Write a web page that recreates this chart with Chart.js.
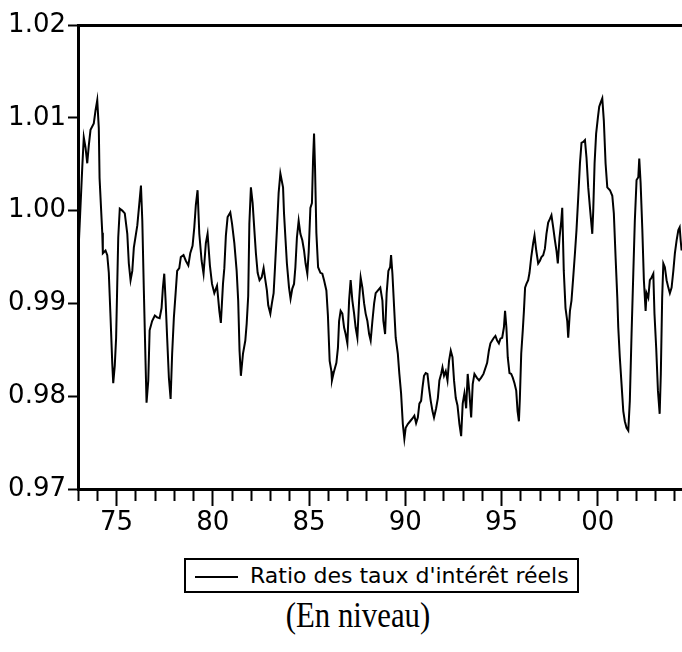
<!DOCTYPE html>
<html>
<head>
<meta charset="utf-8">
<script src="https://cdn.jsdelivr.net/npm/chart.js@4/dist/chart.umd.min.js"></script>
<style>
  body { margin: 0; background: #fff; }
  #wrap { position: relative; width: 682px; height: 652px; overflow: hidden; }
  #chart { position: absolute; left: 0; top: 0; }
  .legend-box { position: absolute; left: 184px; top: 558px; width: 395px; height: 35px;
                border: 2px solid #000; box-sizing: border-box; }
  .legend-line { position: absolute; left: 195px; top: 576px; width: 43px; height: 2px; background: #000; }
  .legend-text { position: absolute; left: 250px; top: 565px; font: 22px/22px "DejaVu Sans", sans-serif;
                 color: #000; white-space: nowrap; }
  .caption { position: absolute; left: 208px; width: 300px; top: 598px; text-align: center;
             font: 35px/35px "Liberation Serif", "Times New Roman", serif; color: #000;
             transform: scaleX(0.88); transform-origin: center; white-space: nowrap; }
</style>
</head>
<body>
<div id="wrap">
  <canvas id="chart" width="682" height="545"></canvas>
  <div class="legend-box"></div>
  <div class="legend-line"></div>
  <div class="legend-text" id="legendText"></div>
  <div class="caption">(En niveau)</div>
</div>
<script>
// values, grouped by calendar year
const years = [
  1973.00, 1973.22, 1973.30, 1973.39, 1973.48, 1973.56, 1973.65, 1973.82, 1973.91,
  1974.00, 1974.08, 1974.12, 1974.26, 1974.29, 1974.43, 1974.52, 1974.60, 1974.69, 1974.78, 1974.83, 1974.91, 1974.98,
  1975.09, 1975.17, 1975.30, 1975.43, 1975.56, 1975.64, 1975.73, 1975.82, 1975.90,
  1976.08, 1976.20, 1976.27, 1976.34, 1976.42, 1976.51, 1976.56, 1976.65, 1976.72, 1976.85, 1976.99,
  1977.11, 1977.24, 1977.34, 1977.41, 1977.48, 1977.55, 1977.63, 1977.72, 1977.81, 1977.89, 1977.98,
  1978.07, 1978.15, 1978.26, 1978.34, 1978.48, 1978.60, 1978.73, 1978.83, 1978.95,
  1979.04, 1979.12, 1979.21, 1979.30, 1979.42, 1979.52, 1979.64, 1979.73, 1979.85, 1979.96,
  1980.08, 1980.22, 1980.34, 1980.42, 1980.53, 1980.60, 1980.68, 1980.77, 1980.91,
  1981.00, 1981.12, 1981.24, 1981.32, 1981.39, 1981.46, 1981.57, 1981.69, 1981.76, 1981.84, 1981.90, 1981.98,
  1982.07, 1982.16, 1982.24, 1982.33, 1982.43, 1982.54, 1982.64, 1982.73, 1982.81, 1982.88, 1982.99,
  1983.07, 1983.16, 1983.23, 1983.33, 1983.42, 1983.51, 1983.65, 1983.70, 1983.78, 1983.85, 1983.96,
  1984.04, 1984.13, 1984.22, 1984.29, 1984.37, 1984.46, 1984.55, 1984.65, 1984.74, 1984.82, 1984.91, 1984.98,
  1985.07, 1985.15, 1985.21, 1985.26, 1985.31, 1985.38, 1985.47, 1985.59, 1985.69, 1985.78, 1985.90, 1985.98,
  1986.07, 1986.16, 1986.19, 1986.30, 1986.42, 1986.50, 1986.56, 1986.64, 1986.73, 1986.82, 1986.90, 1986.99,
  1987.08, 1987.16, 1987.25, 1987.34, 1987.42, 1987.51, 1987.60, 1987.68, 1987.77, 1987.86, 1987.94,
  1988.03, 1988.12, 1988.20, 1988.29, 1988.38, 1988.46, 1988.58, 1988.70, 1988.81, 1988.86, 1988.95,
  1989.03, 1989.12, 1989.21, 1989.26, 1989.33, 1989.42, 1989.50, 1989.61, 1989.69, 1989.78, 1989.87, 1989.95,
  1990.02, 1990.13, 1990.25, 1990.37, 1990.47, 1990.56, 1990.65, 1990.73, 1990.82, 1990.89, 1990.97,
  1991.06, 1991.15, 1991.23, 1991.32, 1991.41, 1991.49, 1991.60, 1991.69, 1991.77, 1991.86, 1991.93,
  1992.01, 1992.10, 1992.19, 1992.27, 1992.36, 1992.45, 1992.53, 1992.62, 1992.71, 1992.81, 1992.90, 1992.98,
  1993.07, 1993.16, 1993.24, 1993.33, 1993.42, 1993.50, 1993.59, 1993.71, 1993.83, 1993.94,
  1994.06, 1994.25, 1994.34, 1994.42, 1994.51, 1994.60, 1994.68, 1994.77, 1994.86, 1994.94,
  1995.03, 1995.12, 1995.18, 1995.25, 1995.32, 1995.41, 1995.50, 1995.58, 1995.67, 1995.76, 1995.83, 1995.90, 1995.95,
  1996.02, 1996.10, 1996.16, 1996.22, 1996.29, 1996.38, 1996.45, 1996.54, 1996.64, 1996.71, 1996.80, 1996.90, 1996.99,
  1997.07, 1997.16, 1997.25, 1997.33, 1997.42, 1997.51, 1997.59, 1997.68, 1997.77, 1997.85, 1997.92,
  1998.01, 1998.10, 1998.15, 1998.23, 1998.32, 1998.41, 1998.46, 1998.55, 1998.63, 1998.72, 1998.81, 1998.89, 1998.98,
  1999.07, 1999.15, 1999.24, 1999.33, 1999.41, 1999.50, 1999.59, 1999.65, 1999.71, 1999.76, 1999.83, 1999.91,
  2000.00, 2000.07, 2000.14, 2000.23, 2000.31, 2000.40, 2000.49, 2000.63, 2000.75, 2000.83, 2000.92,
  2001.01, 2001.06, 2001.14, 2001.23, 2001.32, 2001.40, 2001.49, 2001.58, 2001.66, 2001.75, 2001.84, 2001.92,
  2002.01, 2002.10, 2002.15, 2002.22, 2002.31, 2002.39, 2002.48, 2002.53, 2002.62, 2002.70, 2002.79, 2002.88, 2002.94,
  2003.03, 2003.12, 2003.21, 2003.27, 2003.34, 2003.40, 2003.48, 2003.57, 2003.66, 2003.74, 2003.83, 2003.92,
  2004.00, 2004.09, 2004.18, 2004.25, 2004.30, 2004.35
];

const ratio = [
  0.9945, 1.0046, 1.0079, 1.0068, 1.0051, 1.0070, 1.0087, 1.0094, 1.0108,
  1.0119, 1.0089, 1.0035, 0.9976, 0.9954, 0.9957, 0.9952, 0.9933, 0.9885, 0.9835, 0.9814, 0.9833, 0.9863,
  0.9971, 1.0002, 1.0000, 0.9997, 0.9975, 0.9943, 0.9925, 0.9935, 0.9960,
  0.9984, 1.0011, 1.0027, 0.9989, 0.9914, 0.9835, 0.9793, 0.9817, 0.9871, 0.9881, 0.9887,
  0.9885, 0.9884, 0.9895, 0.9917, 0.9932, 0.9903, 0.9863, 0.9820, 0.9797, 0.9846, 0.9885,
  0.9911, 0.9935, 0.9938, 0.9950, 0.9952, 0.9946, 0.9941, 0.9954, 0.9962,
  0.9982, 1.0006, 1.0022, 0.9975, 0.9946, 0.9932, 0.9965, 0.9975, 0.9941, 0.9921,
  0.9911, 0.9919, 0.9892, 0.9879, 0.9921, 0.9938, 0.9973, 0.9993, 0.9998,
  0.9986, 0.9965, 0.9935, 0.9903, 0.9849, 0.9822, 0.9846, 0.9860, 0.9878, 0.9908, 0.9986, 1.0025,
  1.0008, 0.9979, 0.9954, 0.9933, 0.9925, 0.9928, 0.9938, 0.9925, 0.9914, 0.9898, 0.9889,
  0.9900, 0.9911, 0.9938, 0.9979, 1.0019, 1.0040, 1.0025, 0.9997, 0.9968, 0.9943, 0.9917,
  0.9905, 0.9916, 0.9921, 0.9939, 0.9971, 0.9989, 0.9975, 0.9968, 0.9957, 0.9943, 0.9932, 0.9955,
  1.0003, 1.0008, 1.0056, 1.0083, 1.0047, 0.9976, 0.9939, 0.9933, 0.9932, 0.9925, 0.9914, 0.9887,
  0.9838, 0.9827, 0.9817, 0.9827, 0.9836, 0.9852, 0.9881, 0.9892, 0.9889, 0.9874, 0.9867, 0.9857,
  0.9903, 0.9925, 0.9903, 0.9889, 0.9874, 0.9863, 0.9903, 0.9928, 0.9917, 0.9900, 0.9889,
  0.9881, 0.9867, 0.9860, 0.9881, 0.9900, 0.9911, 0.9914, 0.9917, 0.9903, 0.9881, 0.9867,
  0.9911, 0.9935, 0.9939, 0.9952, 0.9932, 0.9895, 0.9863, 0.9846, 0.9824, 0.9803, 0.9770, 0.9754,
  0.9766, 0.9770, 0.9773, 0.9776, 0.9779, 0.9771, 0.9777, 0.9792, 0.9795, 0.9809, 0.9822,
  0.9825, 0.9824, 0.9809, 0.9795, 0.9784, 0.9777, 0.9787, 0.9798, 0.9817, 0.9824, 0.9831,
  0.9822, 0.9827, 0.9817, 0.9838, 0.9849, 0.9842, 0.9817, 0.9798, 0.9790, 0.9770, 0.9757, 0.9792,
  0.9803, 0.9787, 0.9824, 0.9803, 0.9777, 0.9813, 0.9824, 0.9820, 0.9817, 0.9820,
  0.9824, 0.9836, 0.9849, 0.9857, 0.9860, 0.9863, 0.9865, 0.9860, 0.9857, 0.9862,
  0.9863, 0.9874, 0.9892, 0.9874, 0.9842, 0.9825, 0.9824, 0.9820, 0.9814, 0.9806, 0.9784, 0.9773, 0.9798,
  0.9846, 0.9871, 0.9892, 0.9917, 0.9921, 0.9925, 0.9933, 0.9950, 0.9965, 0.9973, 0.9957, 0.9943, 0.9946,
  0.9950, 0.9952, 0.9959, 0.9975, 0.9987, 0.9991, 0.9995, 0.9982, 0.9968, 0.9957, 0.9943,
  0.9971, 0.9989, 1.0003, 0.9935, 0.9895, 0.9881, 0.9863, 0.9892, 0.9903, 0.9928, 0.9954, 0.9979, 1.0014,
  1.0051, 1.0073, 1.0074, 1.0076, 1.0057, 1.0025, 1.0003, 0.9989, 0.9975, 1.0000, 1.0051, 1.0083,
  1.0100, 1.0112, 1.0116, 1.0121, 1.0097, 1.0051, 1.0025, 1.0022, 1.0016, 0.9997, 0.9950,
  0.9906, 0.9874, 0.9842, 0.9813, 0.9784, 0.9773, 0.9766, 0.9763, 0.9795, 0.9867, 0.9932, 0.9989,
  1.0033, 1.0036, 1.0056, 1.0030, 0.9979, 0.9925, 0.9892, 0.9911, 0.9906, 0.9925, 0.9928, 0.9932, 0.9889,
  0.9852, 0.9806, 0.9781, 0.9824, 0.9906, 0.9943, 0.9939, 0.9925, 0.9917, 0.9911, 0.9917, 0.9935,
  0.9954, 0.9968, 0.9979, 0.9982, 0.9968, 0.9957
];

const seriesLabel = "Ratio des taux d'intérêt réels";
const xMin = 1973;
const xMax = 2004.37;
const yMin = 0.97;
const yMax = 1.02;

if (years.length !== ratio.length) {
  console.error("years/ratio length mismatch", years.length, ratio.length);
}

document.getElementById("legendText").textContent = seriesLabel;

const isTop = (v) => Math.abs(v - yMax) < 1e-6;

const context = document.getElementById("chart").getContext("2d");
new Chart(context, {
  type: "line",
  data: {
    datasets: [{
      label: seriesLabel,
      data: years.map((x, i) => ({ x: x, y: ratio[i] })),
      borderColor: "#000",
      borderWidth: 2,
      pointRadius: 0,
      tension: 0,
      fill: false
    }]
  },
  options: {
    responsive: false,
    animation: false,
    devicePixelRatio: 1,
    layout: { padding: { top: 25, right: 0, bottom: 0, left: 0 } },
    plugins: {
      legend: { display: false },
      tooltip: { enabled: false }
    },
    scales: {
      x: {
        type: "linear",
        min: xMin,
        max: xMax,
        afterFit: (scale) => { scale.height = 56; },
        border: { color: "#000", width: 3 },
        grid: {
          drawOnChartArea: false,
          tickLength: 17,
          tickColor: "#000",
          tickWidth: 2,
          // minor ticks are shorter: dash keeps only the first 10px
          tickBorderDash: (c) => (c.tick && c.tick.value % 5 === 0) ? [] : [10, 40]
        },
        ticks: {
          stepSize: 1,
          includeBounds: false,
          autoSkip: false,
          maxRotation: 0,
          padding: 2,
          color: "#000",
          font: { family: "DejaVu Sans", size: 26 },
          callback: (v) => v % 5 === 0 ? String(v % 100).padStart(2, "0") : ""
        }
      },
      y: {
        min: yMin,
        max: yMax,
        afterFit: (scale) => { scale.width = 78; },
        border: { color: "#000", width: 3 },
        grid: {
          color: (c) => (c.tick && isTop(c.tick.value)) ? "#000" : "rgba(0,0,0,0)",
          lineWidth: (c) => (c.tick && isTop(c.tick.value)) ? 3 : 1,
          tickLength: 10,
          tickColor: "#000",
          tickWidth: 2
        },
        ticks: {
          stepSize: 0.01,
          padding: 2,
          color: "#000",
          font: { family: "DejaVu Sans", size: 26 },
          callback: (v) => Number(v).toFixed(2)
        }
      }
    }
  }
});
</script>
</body>
</html>
